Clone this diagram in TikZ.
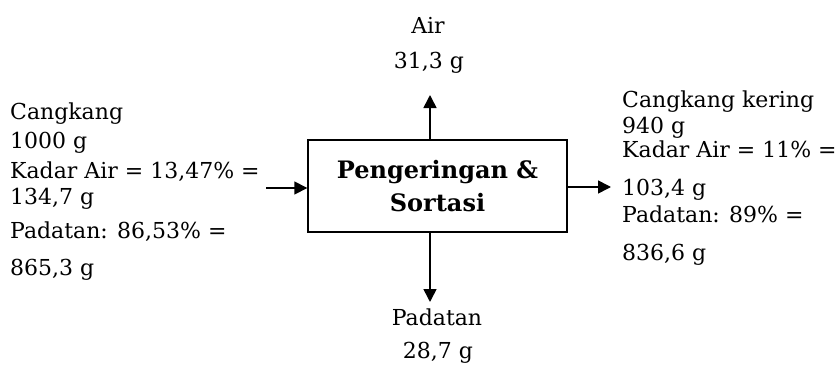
\documentclass[tikz,border=0pt]{standalone}
\usepackage{fontspec}
\setmainfont{DejaVu Serif}
\usetikzlibrary{arrows.meta}
\begin{document}
\begin{tikzpicture}[x=1pt,y=-1pt,
  lbl/.style={anchor=base west,inner sep=0pt,font=\fontsize{22}{26}\selectfont},
  clbl/.style={anchor=base,inner sep=0pt,font=\fontsize{22}{26}\selectfont},
  arr/.style={line width=1.6pt,-{Triangle[length=13pt,width=13pt]}},
  proc/.style={draw,line width=1.4pt,minimum width=259pt,minimum height=92pt,inner sep=0pt,align=center,font=\fontsize{24}{33}\selectfont\bfseries}]
\useasboundingbox (0,0) rectangle (835,364);
\node[proc] (box) at (437.5,186) {Pengeringan \&\\Sortasi};
% left
\node[lbl] (l1) at (10,119) {Cangkang};
\node[lbl] (l2) at (10,148) {1000 g};
\node[lbl] (l3) at (10,178) {Kadar Air = 13,47\% =};
\node[lbl] (l4) at (10,204) {134,7 g};
\node[lbl] (l5) at (10,238) {Padatan: 86,53\% =};
\node[lbl] (l6) at (10,275) {865,3 g};
% right
\node[lbl] (r1) at (622,107) {Cangkang kering};
\node[lbl] (r2) at (622,133) {940 g};
\node[lbl] (r3) at (622,157) {Kadar Air = 11\% =};
\node[lbl] (r4) at (622,195) {103,4 g};
\node[lbl] (r5) at (622,222) {Padatan: 89\% =};
\node[lbl] (r6) at (622,260) {836,6 g};
% top
\node[clbl] (t1) at (428,33) {Air};
\node[clbl] (t2) at (429,68) {31,3 g};
% bottom
\node[clbl] (b1) at (437,325) {Padatan};
\node[clbl] (b2) at (438,358) {28,7 g};
% arrows
\coordinate (upend) at (430,95);
\coordinate (downend) at (430,302);
\coordinate (inL) at (266,188);
\coordinate (outR) at (611,187);
\draw[arr] (box.north -| upend) -- (upend);
\draw[arr] (box.south -| downend) -- (downend);
\draw[arr] (inL) -- (inL -| box.west);
\draw[arr] (box.east |- outR) -- (outR);
\end{tikzpicture}
\end{document}
